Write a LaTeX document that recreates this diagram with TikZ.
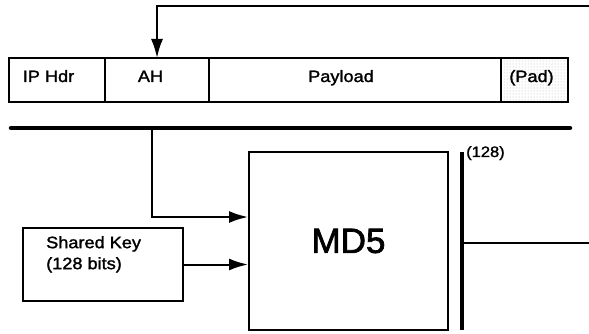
\documentclass[tikz,border=0pt]{standalone}
\usepackage{fontspec}
\setmainfont[FakeBold=2]{Liberation Sans}
\newfontfamily\widesf[FakeStretch=1.1,FakeBold=1.6]{Liberation Sans}
\usepackage{tikz}
\usetikzlibrary{arrows.meta,positioning,patterns}

\begin{document}
\begin{tikzpicture}[
  x=1pt, y=-1pt,
  font=\widesf\fontsize{16.5}{21}\selectfont,
  cell/.style={draw, line width=2pt, outer sep=0pt, minimum height=44pt, inner sep=0pt},
  txt/.style={inner sep=0pt, anchor=base},
  blk/.style={draw, line width=2pt, inner sep=0pt},
  arr/.style={-{Latex[length=19pt,width=12pt]}, line width=2pt},
  thin/.style={line width=2pt},
  heavy/.style={line width=4.5pt, line cap=round}
]
\useasboundingbox (0,0) rectangle (589,334);

% Packet row
\node[cell, minimum width=96pt] (iphdr) at (57,80) {};
\node[cell, minimum width=104pt, right=0pt of iphdr] (ah) {};
\node[cell, minimum width=292pt, right=0pt of ah] (payload) {};
\node[cell, minimum width=67pt, right=0pt of payload, pattern=dots, pattern color=gray!60] (pad) {};
\node[txt] at (48.5,82) {IP Hdr};
\node[txt] at (150.5,82) {AH};
\node[txt] at (341,82) {Payload};
\node[txt] at (531.5,82) {(Pad)};

% ICV fed back into AH
\coordinate (icvin) at (589,6);
\draw[arr] (icvin) -| (ah.north);

% Packet line and tap
\coordinate (linel) at (11,128);
\coordinate (liner) at (570,128);
\coordinate (tap) at (152,128);
\draw[heavy] (linel) -- (liner);

% MD5 and key
\node[blk, minimum width=199pt, minimum height=178pt, font=\fontsize{35}{40}\selectfont] (md5) at (348.5,241) {MD5};
\node[blk, minimum width=160pt, minimum height=73pt] (key) at (103,264.5) {};
\node[inner sep=0pt, align=left, anchor=north west] (keytxt) at ([xshift=24pt,yshift=-9pt]key.north west) {Shared Key\\(128 bits)};
\draw[arr] (tap) |- ([yshift=24pt]md5.west);
\draw[arr] (key.east) -- (key.east -| md5.west);

% Output
\coordinate (bartop) at (462,152);
\coordinate (barbot) at (462,330);
\coordinate (barmid) at (462,243);
\coordinate (hashout) at (589,243);
\draw[line width=4pt] (bartop) -- (barbot);
\draw[thin] (barmid) -- (hashout);
\node[txt, anchor=base west, font=\widesf\fontsize{15}{17}\selectfont] (bits) at (466,157) {(128)};
\end{tikzpicture}
\end{document}
